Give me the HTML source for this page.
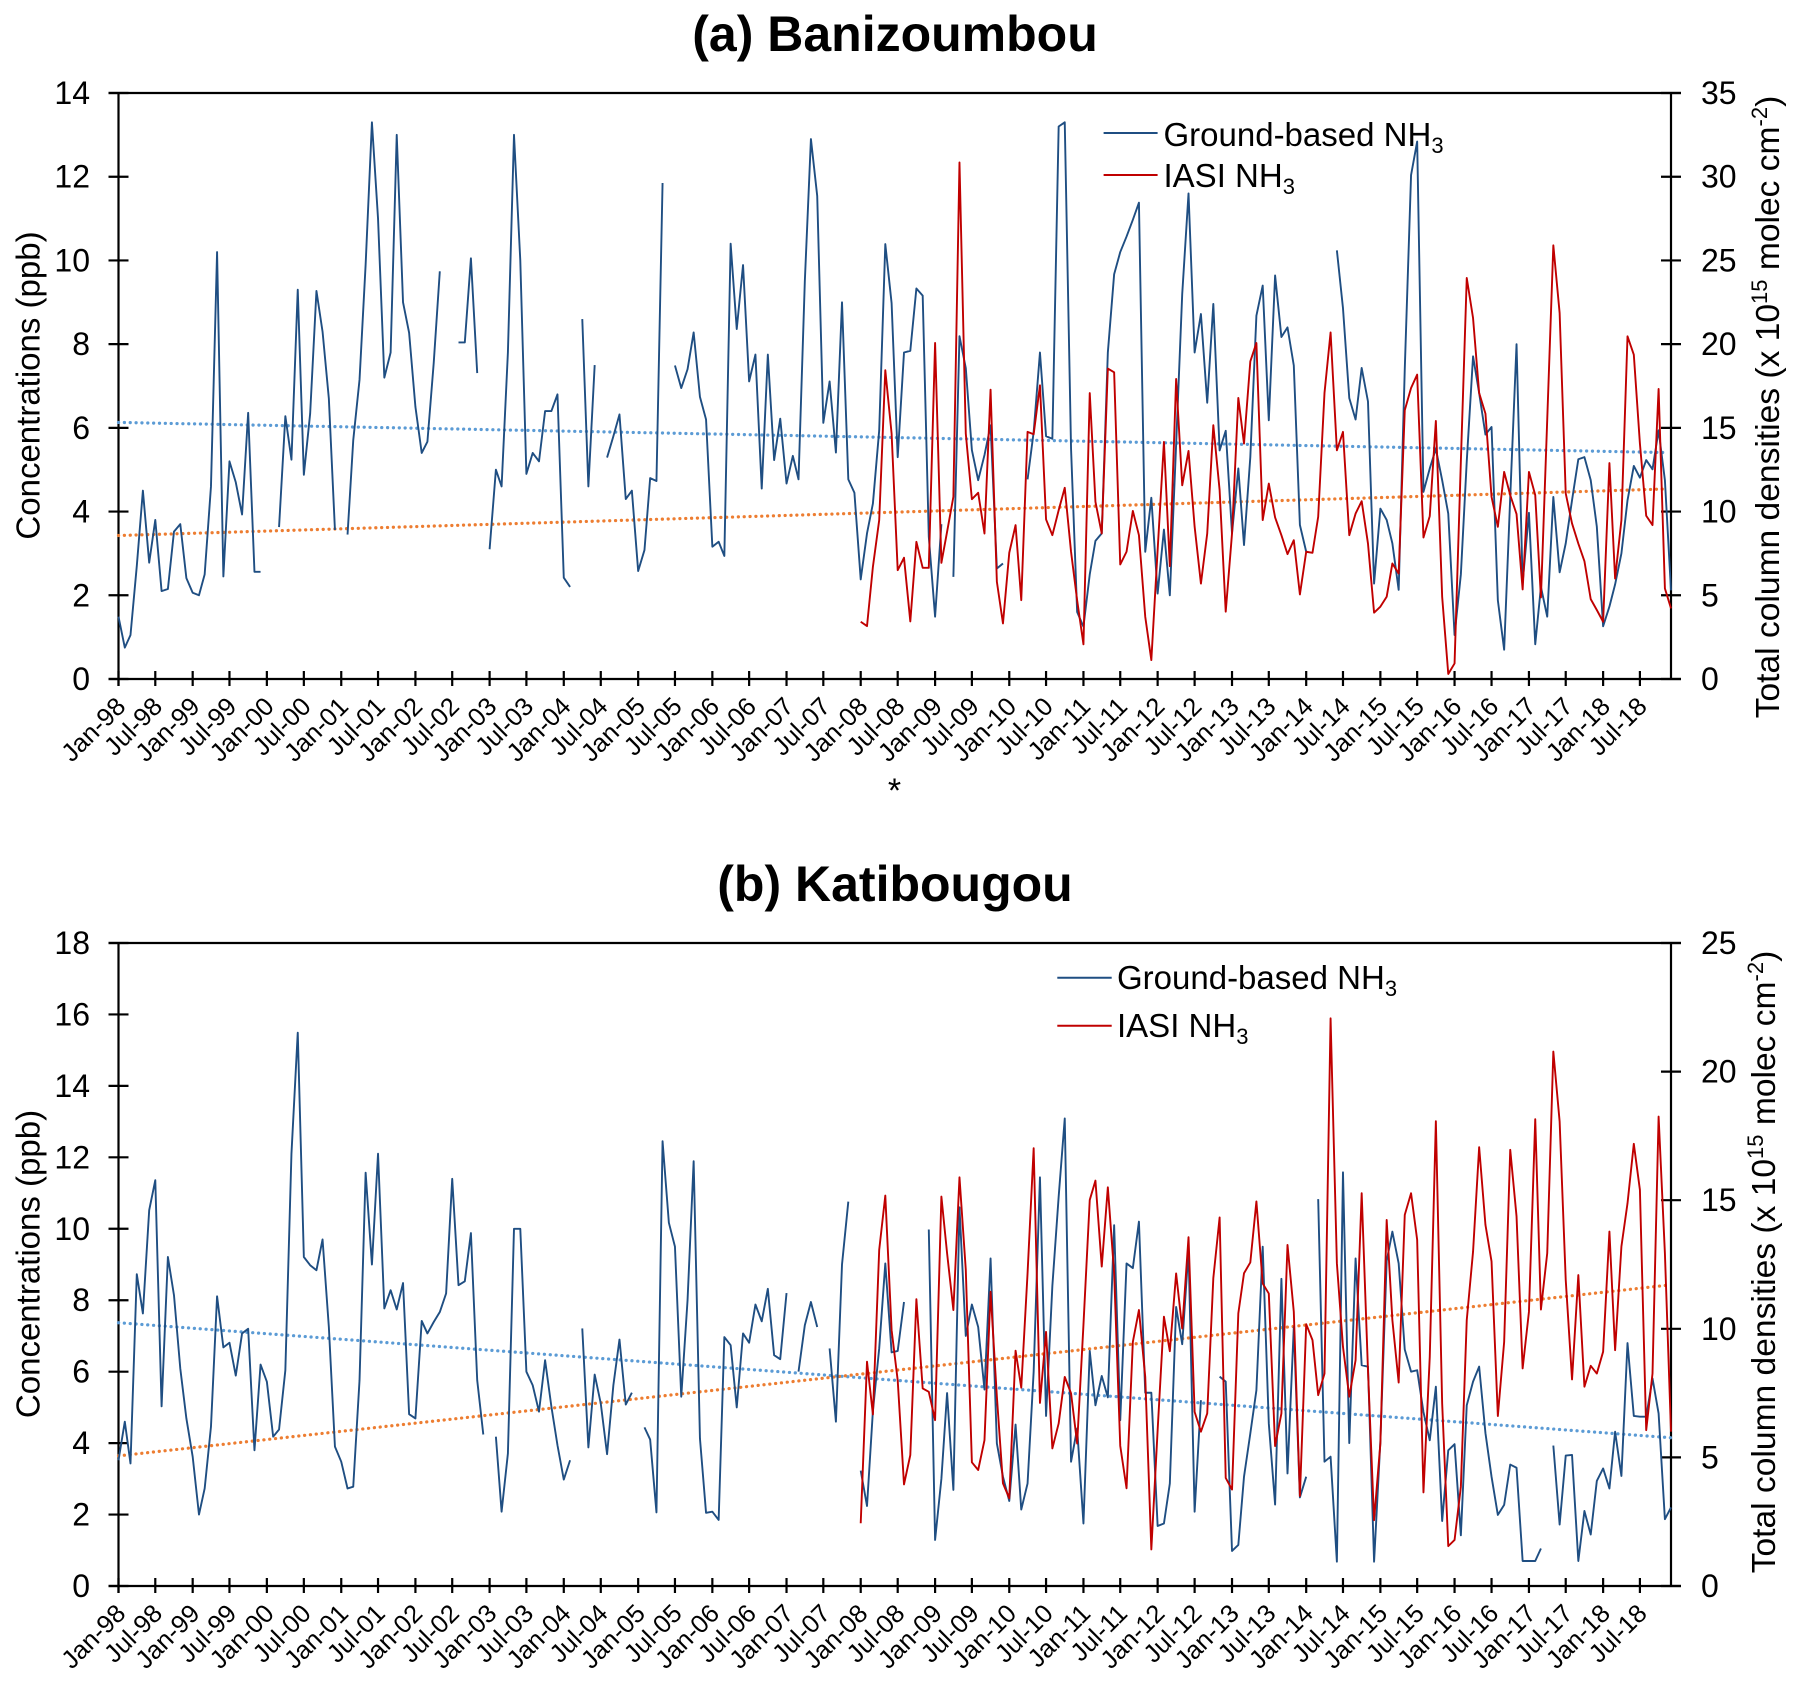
<!DOCTYPE html>
<html lang="en">
<head>
<meta charset="utf-8">
<title>NH3 time series: Banizoumbou and Katibougou</title>
<style>
html,body{margin:0;padding:0;background:#fff}
svg{display:block}
text{font-family:"Liberation Sans",Arial,sans-serif;fill:#000}
.title{font-size:50px;font-weight:bold;text-anchor:middle}
.tick{font-size:32px}
.date{font-size:25.5px;text-anchor:end}
.axis-title{font-size:33px;text-anchor:middle}
.axis-title-wide{font-size:33.6px;text-anchor:middle}
.legend{font-size:33px}
.sub{font-size:22px}
</style>
</head>
<body>
<svg id="figure" width="1802" height="1684" viewBox="0 0 1802 1684" xmlns="http://www.w3.org/2000/svg">
  <text class="title" x="895" y="51">(a) Banizoumbou</text>
  <text class="title" x="895" y="901">(b) Katibougou</text>
  <text x="894.5" y="802" font-size="34" text-anchor="middle">*</text>

  <g id="chart-a"></g>
  <g id="chart-b"></g>

  <text class="axis-title" transform="translate(39.5,385.5) rotate(-90)">Concentrations (ppb)</text>
  <text class="axis-title-wide" transform="translate(1779,407) rotate(-90)">Total column densities (x 10<tspan font-size="22" dy="-12">15</tspan><tspan dy="12"> molec cm</tspan><tspan font-size="22" dy="-12">-2</tspan><tspan dy="12">)</tspan></text>
  <text class="axis-title" transform="translate(39.5,1264) rotate(-90)">Concentrations (ppb)</text>
  <text class="axis-title-wide" transform="translate(1775,1262) rotate(-90)">Total column densities (x 10<tspan font-size="22" dy="-12">15</tspan><tspan dy="12"> molec cm</tspan><tspan font-size="22" dy="-12">-2</tspan><tspan dy="12">)</tspan></text>

  <g>
    <line x1="1103.6" x2="1157.6" y1="133" y2="133" stroke="#1F4E82" stroke-width="2"/>
    <text class="legend" x="1163.5" y="146">Ground-based NH<tspan class="sub" dy="7">3</tspan></text>
    <line x1="1103.6" x2="1157.6" y1="175" y2="175" stroke="#C00000" stroke-width="2"/>
    <text class="legend" x="1163.5" y="187">IASI NH<tspan class="sub" dy="7">3</tspan></text>
  </g>
  <g>
    <line x1="1057.3" x2="1111.7" y1="977.7" y2="977.7" stroke="#1F4E82" stroke-width="2"/>
    <text class="legend" x="1117" y="989">Ground-based NH<tspan class="sub" dy="7">3</tspan></text>
    <line x1="1057.3" x2="1111.7" y1="1025.7" y2="1025.7" stroke="#C00000" stroke-width="2"/>
    <text class="legend" x="1117" y="1037">IASI NH<tspan class="sub" dy="7">3</tspan></text>
  </g>
</svg>
<script>
// Category axis: monthly values, first month Jan-1998, 252 months
const startYear = 1998;
const monthCount = 252;
const iasiFirstMonth = 120;
const dateTickLabels = ['Jan-98','Jul-98','Jan-99','Jul-99','Jan-00','Jul-00','Jan-01','Jul-01','Jan-02','Jul-02','Jan-03','Jul-03','Jan-04','Jul-04','Jan-05','Jul-05','Jan-06','Jul-06','Jan-07','Jul-07','Jan-08','Jul-08','Jan-09','Jul-09','Jan-10','Jul-10','Jan-11','Jul-11','Jan-12','Jul-12','Jan-13','Jul-13','Jan-14','Jul-14','Jan-15','Jul-15','Jan-16','Jul-16','Jan-17','Jul-17','Jan-18','Jul-18'];

// Value-axis tick labels
const leftTicksA = [0,2,4,6,8,10,12,14];
const rightTicksA = [0,5,10,15,20,25,30,35];
const leftTicksB = [0,2,4,6,8,10,12,14,16,18];
const rightTicksB = [0,5,10,15,20,25];

// (a) Banizoumbou: ground-based NH3 in ppb, Jan-98 to Dec-18
const groundA = [
1.49,0.75,1.05,2.7,4.5,2.78,3.8,2.1,2.15,3.52,3.7,2.41,
2.06,2.0,2.5,4.6,10.2,2.45,5.2,4.7,3.93,6.36,2.56,2.56,
null,null,3.63,6.28,5.24,9.3,4.88,6.34,9.27,8.3,6.7,3.56,
null,3.45,5.7,7.15,9.9,13.3,11,7.2,7.8,13,9,8.27,
6.5,5.4,5.67,7.55,9.74,null,null,8.04,8.04,10.05,7.31,null,
3.1,5.0,4.6,7.8,13,10,4.9,5.4,5.2,6.4,6.4,6.8,
2.42,2.2,null,8.6,4.6,7.5,null,5.29,5.8,6.32,4.3,4.5,
2.58,3.08,4.8,4.73,11.85,null,7.49,6.95,7.4,8.28,6.74,6.2,
3.16,3.28,2.94,10.4,8.36,9.89,7.11,7.75,4.55,7.75,5.23,6.22,
4.67,5.33,4.77,9.5,12.9,11.54,6.12,7.11,5.41,9.0,4.77,4.45,
2.38,3.48,4.19,5.94,10.39,8.98,5.3,7.8,7.84,9.33,9.16,3.4,
1.49,3.7,null,2.44,8.19,7.43,5.47,4.75,5.35,6.06,2.64,2.76,
null,null,null,4.77,5.9,7.8,5.8,5.74,13.2,13.3,5.5,1.6,
1.25,2.5,3.3,3.48,7.8,9.67,10.2,10.57,10.97,11.38,3.04,4.33,
2.04,3.57,2.0,5.6,9.2,11.6,7.8,8.72,6.6,8.96,5.46,5.93,
3.48,5.03,3.2,5.3,8.68,9.4,6.18,9.64,8.17,8.4,7.49,3.68,
3.04,null,null,null,null,10.24,8.86,6.71,6.2,7.43,6.63,2.28,
4.07,3.8,3.24,2.13,7.4,12.04,12.84,4.47,5.03,5.5,4.75,3.95,
1.05,2.5,5.2,7.71,6.83,5.84,6.02,1.88,0.7,4.35,8.0,2.3,
3.97,0.83,2.2,1.49,4.35,2.55,3.24,4.27,5.25,5.3,4.75,3.64,
1.26,1.73,2.26,3.0,4.27,5.09,4.81,5.23,5.01,5.94,4.75,2.12];

// (a) IASI NH3 in 10^15 molec cm-2, Jan-08 to Dec-18
const iasiA = [
3.42,3.16,6.7,9.49,18.44,14.66,6.5,7.24,3.44,8.19,6.64,6.64,
20.07,6.94,8.79,10.88,30.85,14.66,10.74,11.12,8.69,17.28,5.81,3.32,
7.54,9.19,4.71,14.76,14.62,17.54,9.53,8.59,10.08,11.42,7.6,4.7,
2.07,17.08,10.58,8.69,18.54,18.32,6.84,7.6,10.04,8.59,3.72,1.13,
7.7,14.16,6.74,17.92,11.57,13.62,9.1,5.7,8.69,15.16,11.28,4.02,
8.69,16.79,14.06,18.97,20.07,9.49,11.67,9.65,8.59,7.46,8.29,5.05,
7.6,7.54,9.69,17.08,20.7,13.66,14.76,8.59,9.88,10.62,8.09,3.96,
4.32,4.91,6.9,6.3,16.05,17.38,18.18,8.45,9.73,15.41,4.91,0.3,
0.93,13.0,23.95,21.56,17.08,15.85,10.88,9.09,12.37,10.98,9.85,5.35,
12.37,10.98,4.87,15.5,25.9,21.86,11.08,9.29,8.09,7.04,4.77,4.12,
3.42,12.9,6.0,9.49,20.47,19.37,14.06,9.75,9.19,17.32,5.41,4.22];

// (b) Katibougou: ground-based NH3 in ppb, Jan-98 to Dec-18
const groundB = [
3.52,4.6,3.43,8.73,7.63,10.52,11.36,5.03,9.21,8.14,6.09,4.69,
3.62,2.0,2.73,4.46,8.11,6.68,6.81,5.89,7.07,7.2,3.8,6.2,
5.72,4.18,4.38,6.04,12.1,15.49,9.21,8.98,8.84,9.7,7.25,3.9,
3.48,2.73,2.78,5.76,11.57,9.0,12.1,7.77,8.28,7.74,8.48,4.81,
4.69,7.42,7.07,7.39,7.67,8.19,11.4,8.42,8.53,9.88,5.76,4.24,
null,4.18,2.08,3.71,10,10,6.0,5.62,4.88,6.32,5.02,3.94,
2.98,3.52,null,7.21,3.88,5.92,5.11,3.69,5.62,6.9,5.08,5.41,
null,4.44,4.1,2.06,12.45,10.17,9.5,5.3,8.0,11.89,4.13,2.05,
2.08,1.85,6.97,6.74,5.0,7.07,6.81,7.88,7.41,8.32,6.46,6.35,
8.2,null,6.0,7.3,7.95,7.25,null,6.65,4.6,9.0,10.76,null,
3.23,2.24,4.9,6.65,9.03,6.54,6.58,7.95,null,null,null,9.98,
1.29,3.0,5.4,2.69,10.6,7.0,7.88,7.25,5.5,9.17,3.99,3.06,
2.38,4.52,2.14,2.87,6.0,11.44,4.76,8.4,10.9,13.09,3.48,4.41,
1.75,6.58,5.06,5.88,5.28,10.1,4.64,9.03,8.9,10.2,5.41,5.41,
1.68,1.75,2.87,7.81,6.77,9.4,2.08,5.2,null,null,5.86,5.72,
0.98,1.15,3.06,4.27,5.48,9.5,4.55,2.28,8.6,3.15,7.25,2.48,
3.06,null,10.83,3.48,3.62,0.68,11.58,4.0,9.17,6.18,6.14,0.68,
4.06,9.1,9.92,9.03,6.62,6.0,6.04,4.87,4.08,5.58,1.82,3.8,
3.97,1.42,5.06,5.72,6.14,4.28,3.06,1.99,2.27,3.4,3.31,0.7,
0.7,0.7,1.05,null,3.93,1.72,3.65,3.67,0.7,2.1,1.44,2.94,
3.29,2.73,4.32,3.08,6.8,4.76,4.74,4.74,5.81,4.83,1.87,2.2];

// (b) IASI NH3 in 10^15 molec cm-2, Jan-08 to Dec-18
const iasiB = [
2.44,8.72,6.67,13.07,15.18,9.95,8.0,3.95,5.09,11.15,7.68,7.55,
6.45,15.14,12.94,10.73,15.89,12.3,4.81,4.51,5.67,11.44,7.36,3.99,
3.41,9.15,7.71,12.16,17.02,7.12,9.88,5.35,6.32,8.13,7.49,5.54,
10.15,15.01,15.76,12.42,15.5,12.16,5.45,3.8,9.49,10.73,8.13,1.42,
6.06,10.47,9.13,12.15,10.01,13.56,6.77,6.0,6.71,11.97,14.33,4.2,
3.75,10.6,12.16,12.58,14.95,11.76,11.37,5.44,6.71,13.26,10.66,3.5,
10.18,9.56,7.42,8.26,22.07,12.55,9.3,7.36,8.78,15.27,8.39,2.56,
5.54,14.23,10.34,7.91,14.43,15.27,13.46,3.64,8.91,18.07,7.1,1.55,
1.79,3.86,10.34,13.0,17.06,14.04,12.62,6.61,9.49,16.96,14.37,8.46,
10.66,18.15,10.75,12.94,20.78,18.06,11.9,8.03,12.09,7.75,8.56,8.26,
9.11,13.78,9.17,13.2,14.88,17.19,15.4,6.06,8.26,18.25,12.94,6.0];

// Trend lines: [first month value, last month value] on the matching axis
const groundTrendA = [6.13,5.41];
const iasiTrendA = [8.57,11.35];
const groundTrendB = [7.37,4.15];
const iasiTrendB = [5.06,11.71];

const SVG_NS = 'http://www.w3.org/2000/svg';
const plotLeft = 118.5;
const plotRight = 1671;
const DAY = 86400000;
const dayZero = Date.UTC(startYear, 0, 1);
const daySpan = (Date.UTC(startYear, monthCount - 1, 1) - dayZero) / DAY;

function xForDay(day) {
  return plotLeft + (day / daySpan) * (plotRight - plotLeft);
}
function xForMonth(monthIndex) {
  return xForDay((Date.UTC(startYear, monthIndex, 1) - dayZero) / DAY);
}
function yScale(maxValue, top, bottom) {
  return function (v) { return bottom - (v / maxValue) * (bottom - top); };
}
function make(tag, attrs, parent) {
  const el = document.createElementNS(SVG_NS, tag);
  Object.keys(attrs).forEach(function (k) { el.setAttribute(k, attrs[k]); });
  parent.appendChild(el);
  return el;
}
function linePath(values, firstMonth, yFn) {
  let d = '';
  let pen = false;
  values.forEach(function (v, i) {
    if (v === null) { pen = false; return; }
    d += (pen ? 'L' : 'M') + xForMonth(firstMonth + i).toFixed(2) + ' ' + yFn(v).toFixed(2);
    pen = true;
  });
  return d;
}

function drawChart(prefix, cfg) {
  const g = document.getElementById('chart-' + prefix);
  const yL = yScale(cfg.leftTicks[cfg.leftTicks.length - 1], cfg.top, cfg.bottom);
  const yR = yScale(cfg.rightTicks[cfg.rightTicks.length - 1], cfg.top, cfg.bottom);
  const axisStyle = { stroke: '#000', 'stroke-width': 2.2, fill: 'none' };

  // frame
  const frame = make('path', Object.assign({ d:
    'M' + (plotLeft - 10) + ' ' + cfg.top + 'H' + (plotRight + 10) +
    'M' + (plotLeft - 10) + ' ' + cfg.bottom + 'H' + (plotRight + 10) +
    'M' + plotLeft + ' ' + cfg.top + 'V' + (cfg.bottom + 7) +
    'M' + plotRight + ' ' + cfg.top + 'V' + cfg.bottom }, axisStyle), g);
  
  

  // left ticks
  cfg.leftTicks.forEach(function (t) {
    const mark = make('line', Object.assign({ x1: plotLeft - 10, x2: plotLeft + 10, y1: yL(t), y2: yL(t) }, axisStyle), g);
    
    
    const label = make('text', { 'class': 'tick', x: 90, y: yL(t) + 11, 'text-anchor': 'end' }, g);
    label.textContent = String(t);
    
    
  });

  // right ticks
  cfg.rightTicks.forEach(function (t) {
    const mark = make('line', Object.assign({ x1: plotRight - 10, x2: plotRight + 10, y1: yR(t), y2: yR(t) }, axisStyle), g);
    
    
    const label = make('text', { 'class': 'tick', x: plotRight + 30, y: yR(t) + 11 }, g);
    label.textContent = String(t);
    
    
  });

  // date ticks, one label every six months
  dateTickLabels.forEach(function (name, n) {
    const x = xForMonth(n * 6);
    const mark = make('line', Object.assign({ x1: x, x2: x, y1: cfg.bottom - 8, y2: cfg.bottom + 7 }, axisStyle), g);
    
    
    const label = make('text', { 'class': 'date', transform: 'translate(' + (x + 8.5) + ',' + (cfg.bottom + 29) + ') rotate(-45)' }, g);
    label.textContent = name;
    
    
  });

  // trend lines
  const trendStyle = { 'stroke-width': 3.2, 'stroke-linecap': 'round', 'stroke-dasharray': '0.1 5.75', fill: 'none' };
  const groundTrendLine = make('line', Object.assign({
    x1: xForMonth(0), x2: xForMonth(monthCount - 1) - cfg.trendInset,
    y1: yL(cfg.groundTrend[0]), y2: yL(cfg.groundTrend[1]), stroke: '#5B9BD5' }, trendStyle), g);
  
  
  const iasiTrendLine = make('line', Object.assign({
    x1: xForMonth(0), x2: xForMonth(monthCount - 1) - cfg.trendInset,
    y1: yR(cfg.iasiTrend[0]), y2: yR(cfg.iasiTrend[1]), stroke: '#ED7D31' }, trendStyle), g);
  
  

  // series
  const groundLine = make('path', { d: linePath(cfg.ground, 0, yL), fill: 'none', stroke: '#1F4E82', 'stroke-width': 1.9, 'stroke-linejoin': 'round' }, g);
  
  
  const iasiLine = make('path', { d: linePath(cfg.iasi, iasiFirstMonth, yR), fill: 'none', stroke: '#C00000', 'stroke-width': 1.9, 'stroke-linejoin': 'round' }, g);
  
  
}

drawChart('a', { top: 93, bottom: 679, leftTicks: leftTicksA, rightTicks: rightTicksA, ground: groundA, iasi: iasiA, groundTrend: groundTrendA, iasiTrend: iasiTrendA, trendInset: 5 });
drawChart('b', { top: 943, bottom: 1586, leftTicks: leftTicksB, rightTicks: rightTicksB, ground: groundB, iasi: iasiB, groundTrend: groundTrendB, iasiTrend: iasiTrendB, trendInset: 0 });
</script>
</body>
</html>
